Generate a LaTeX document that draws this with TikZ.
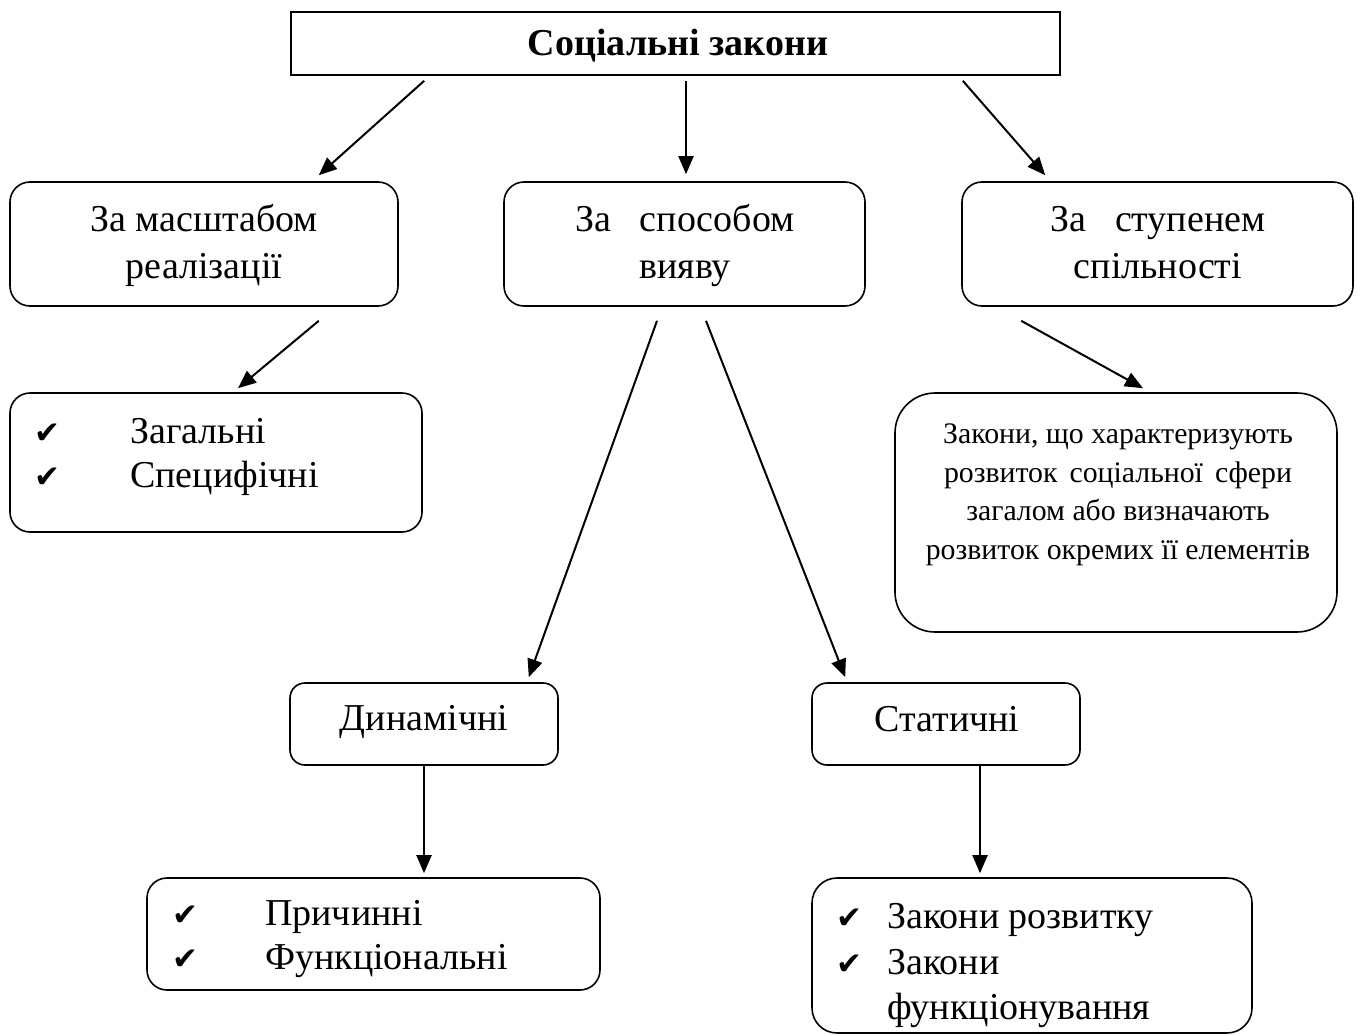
\documentclass[tikz,border=0pt]{standalone}
\usepackage{fontspec}
\setmainfont{Liberation Serif}
\newfontfamily\symf{DejaVu Sans}
\usetikzlibrary{arrows.meta}
\newcommand{\chk}{{\symf\fontsize{31}{31}\selectfont ✔}}
\begin{document}
\begin{tikzpicture}[x=1pt,y=-1pt,
  box/.style={draw, line width=1.6pt, rounded corners=20pt, inner sep=0pt},
  arr/.style={line width=2pt, -{Triangle[length=18pt,width=15pt]}},
  txt/.style={font=\fontsize{38}{47}\selectfont, align=center, inner sep=0pt},
  stxt/.style={font=\fontsize{29.8}{38.5}\selectfont, align=center, inner sep=0pt},
  ltxt/.style={font=\fontsize{38}{45}\selectfont, anchor=base west, inner sep=0pt},
  ck/.style={anchor=base west, inner sep=0pt}
]
\useasboundingbox (0,0) rectangle (1360,1036);
% boxes
\node[draw, line width=1.6pt, inner sep=0pt, minimum width=769pt, minimum height=63pt] (top) at (675.5,43.5) {};
\node[txt, font=\fontsize{38}{47}\selectfont\bfseries] (topt) at (678,46) {Соціальні закони};

\node[box, minimum width=388pt, minimum height=124pt] (A) at (204,244) {};
\node[txt] (At) at (204,245) {За масштабом\\реалізації};

\node[box, minimum width=361pt, minimum height=124pt] (B) at (684.5,244) {};
\node[txt] (Bt) at (685,245) {За\hspace{0.5em} способом\\вияву};

\node[box, minimum width=391pt, minimum height=124pt] (C) at (1157.5,244) {};
\node[txt] (Ct) at (1158,243) {За\hspace{0.5em} ступенем\\спільності};

\node[box, minimum width=412pt, minimum height=139pt] (D) at (216,462.5) {};
\node[ck] (Dc1) at (34,443) {\chk};
\node[ck] (Dc2) at (34,487) {\chk};
\node[ltxt] (Dt1) at (130,443) {Загальні};
\node[ltxt] (Dt2) at (130,487) {Специфічні};

\node[box, rounded corners=40pt, minimum width=442pt, minimum height=239pt] (E) at (1116,512.5) {};
\node[stxt] (Et) at (1118,495) {Закони, що характеризують\\\makebox[348pt][s]{розвиток соціальної сфери}\\загалом або визначають\\розвиток окремих її елементів};

\node[box, rounded corners=15pt, minimum width=268pt, minimum height=82pt] (F) at (424,724) {};
\node[txt] (Ft) at (424,722) {Динамічні};

\node[box, rounded corners=15pt, minimum width=268pt, minimum height=82pt] (G) at (946,724) {};
\node[txt] (Gt) at (947,719) {Статичні};

\node[box, minimum width=453pt, minimum height=112pt] (H) at (373.5,934) {};
\node[ck] (Hc1) at (172,925) {\chk};
\node[ck] (Hc2) at (172,969) {\chk};
\node[ltxt] (Ht1) at (265,925) {Причинні};
\node[ltxt] (Ht2) at (265,969) {Функціональні};

\node[box, rounded corners=25pt, minimum width=440pt, minimum height=155pt] (I) at (1032,955.5) {};
\node[ck] (Ic1) at (836,928) {\chk};
\node[ck] (Ic2) at (836,974) {\chk};
\node[ltxt] (It1) at (887,928) {Закони розвитку};
\node[ltxt] (It2) at (887,974) {Закони};
\node[ltxt] (It3) at (887,1019) {функціонування};

% arrows
\draw[arr] ([xshift=134pt,yshift=-5pt]top.south west) -- ([xshift=-80pt,yshift=6pt]A.north east);
\draw[arr] ([xshift=10.5pt,yshift=-5pt]top.south) -- ([xshift=1.5pt,yshift=7pt]B.north);
\draw[arr] ([xshift=-98pt,yshift=-5pt]top.south east) -- ([xshift=84pt,yshift=6pt]C.north west);
\draw[arr] ([xshift=-80pt,yshift=-14pt]A.south east) -- ([xshift=22pt,yshift=4pt]D.north);
\draw[arr] ([xshift=-27.5pt,yshift=-14pt]B.south) -- ([xshift=-30pt,yshift=5pt]F.north east);
\draw[arr] ([xshift=21.5pt,yshift=-14pt]B.south) -- ([xshift=34pt,yshift=5pt]G.north west);
\draw[arr] ([xshift=60pt,yshift=-14pt]C.south west) -- ([xshift=27pt,yshift=4pt]E.north);
\draw[arr] (F.south) -- ([xshift=50.5pt,yshift=4pt]H.north);
\draw[arr] ([xshift=34pt]G.south) -- ([xshift=-52pt,yshift=4pt]I.north);
\end{tikzpicture}
\end{document}
